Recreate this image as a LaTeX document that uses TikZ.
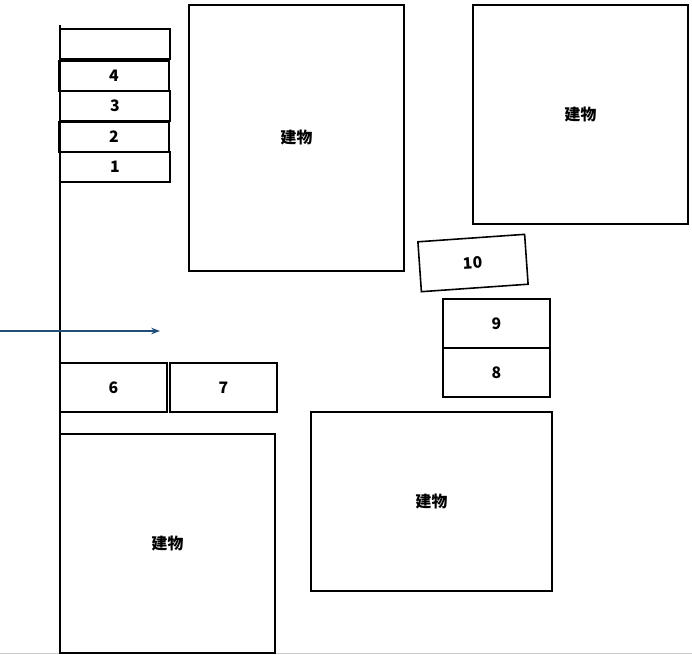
\documentclass[tikz,border=0pt]{standalone}
\usepackage{fontspec}
\setmainfont{Noto Sans CJK JP}
\usepackage{tikz}
\usetikzlibrary{arrows.meta}
\tikzset{lot/.style={draw, line width=0.9pt, inner sep=0pt, font=\bfseries\fontsize{9}{10}\selectfont},
         bldg/.style={draw, line width=0.9pt, inner sep=0pt}}
\begin{document}
\begin{tikzpicture}[x=0.02cm, y=-0.02cm]
\useasboundingbox (0,0) rectangle (692,654);
\coordinate (top) at (60,25);
\coordinate (bot) at (60,654);
 \draw[line width=0.9pt] (top) -- (bot);
 \draw[gray!40] (0,653) -- (692,653);
 % parking slots along the left side
 \node[lot, minimum width=2.2cm, minimum height=0.6cm] (s0) at (115,44) {};
 \node[lot, minimum width=2.2cm, minimum height=0.6cm] (s4) at (114,76) {4};
 \node[lot, minimum width=2.2cm, minimum height=0.6cm] (s3) at (115,106) {3};
 \node[lot, minimum width=2.2cm, minimum height=0.6cm] (s2) at (114,137) {2};
 \node[lot, minimum width=2.2cm, minimum height=0.6cm] (s1) at (115,167) {1};
 \node[lot, minimum width=2.14cm, minimum height=0.98cm] (s6) at (113.5,387.5) {6};
 \node[lot, minimum width=2.14cm, minimum height=0.98cm] (s7) at (223.5,387.5) {7};
 \node[lot, minimum width=2.14cm, minimum height=0.98cm] (s9) at (496.5,323.5) {9};
 \node[lot, minimum width=2.14cm, minimum height=0.98cm] (s8) at (496.5,372.5) {8};
 \node[lot, minimum width=2.14cm, minimum height=1.0cm, rotate=4] (s10) at (473,263) {10};
 % buildings
 \node[bldg, minimum width=4.3cm, minimum height=5.32cm, font=\bfseries\fontsize{9}{10}\selectfont] (b1) at (296.5,138) {建物};
 \node[bldg, minimum width=4.3cm, minimum height=4.38cm, font=\bfseries\fontsize{9}{10}\selectfont] (b2) at (580.5,114.5) {建物};
 \node[bldg, minimum width=4.3cm, minimum height=4.38cm, font=\bfseries\fontsize{9}{10}\selectfont] (b3) at (167.5,543.5) {建物};
 \node[bldg, minimum width=4.82cm, minimum height=3.58cm, font=\bfseries\fontsize{9}{10}\selectfont] (b4) at (431.5,501.5) {建物};
 % entrance
\coordinate (in) at (0,331);
\coordinate (entry) at (160,331);
 \draw[-{Stealth[length=5pt]}, color={rgb,255:red,31;green,78;blue,121}, line width=0.9pt] (in) -- (entry);
\end{tikzpicture}
\end{document}
